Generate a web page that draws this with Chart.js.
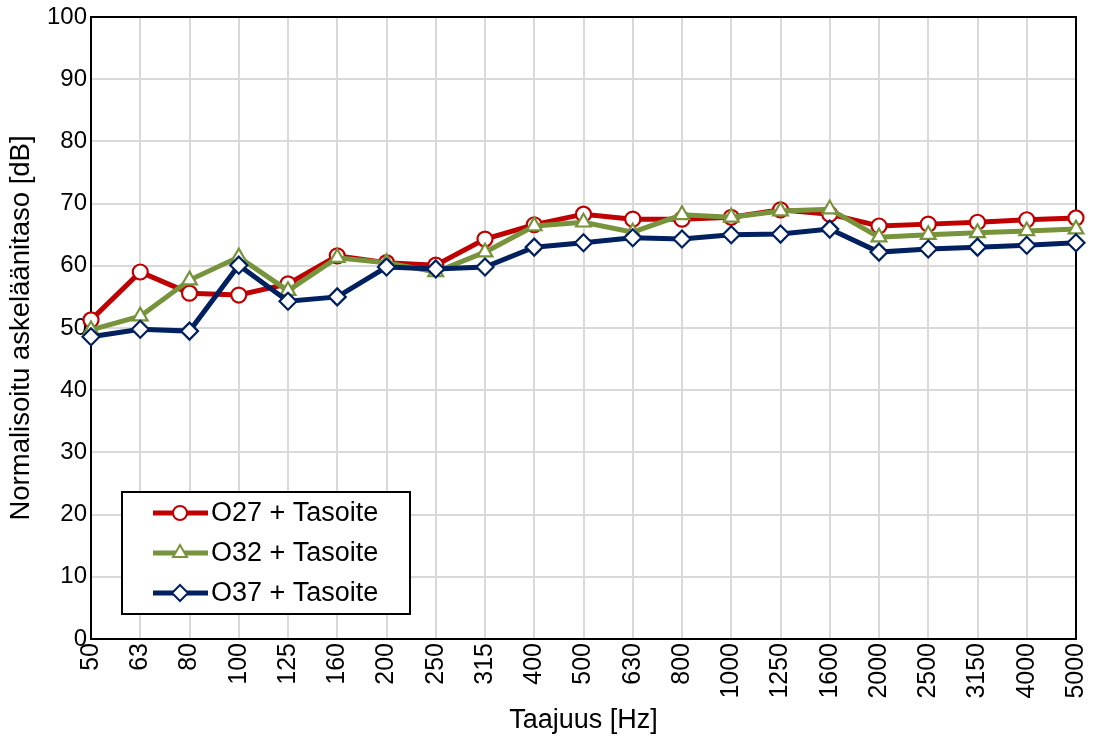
<!DOCTYPE html>
<html>
<head>
<meta charset="utf-8">
<script src="https://cdn.jsdelivr.net/npm/chart.js@4/dist/chart.umd.min.js"></script>
<style>
  html, body { margin: 0; padding: 0; background: #fff; }
  #wrap { width: 1095px; height: 737px; }
</style>
</head>
<body>
<div id="wrap"><canvas id="chart" width="1095" height="737"></canvas></div>
<script>
const frequencies = ['50', '63', '80', '100', '125', '160', '200', '250', '315', '400', '500',
  '630', '800', '1000', '1250', '1600', '2000', '2500', '3150', '4000', '5000'];

const o27 = [51.3, 59.0, 55.6, 55.3, 57.1, 61.6, 60.5, 60.1, 64.3, 66.6, 68.3,
  67.5, 67.5, 67.8, 69.0, 68.3, 66.4, 66.7, 67.0, 67.4, 67.7];
const o32 = [49.7, 51.9, 57.7, 61.4, 56.0, 61.3, 60.5, 59.0, 62.2, 66.4, 67.0,
  65.4, 68.2, 67.8, 68.8, 69.1, 64.6, 65.0, 65.3, 65.6, 65.9];
const o37 = [48.6, 49.8, 49.5, 60.1, 54.3, 55.0, 59.8, 59.5, 59.8, 63.0, 63.7,
  64.5, 64.3, 65.0, 65.1, 65.9, 62.2, 62.7, 63.0, 63.3, 63.7];

const seriesNames = ['O27 + Tasoite', 'O32 + Tasoite', 'O37 + Tasoite'];
const yTicks = [0, 10, 20, 30, 40, 50, 60, 70, 80, 90, 100];

const FONT = 'Arial, "Liberation Sans", sans-serif';

function series(label, data, color, style, order) {
  return {
    label: label,
    data: data,
    borderColor: color,
    backgroundColor: '#FFFFFF',
    borderWidth: 5,
    pointStyle: style,
    pointRadius: style === 'circle' ? 7.5 : 8.5,
    pointBorderWidth: 2.2,
    pointBorderColor: color,
    pointBackgroundColor: '#FFFFFF',
    tension: 0,
    order: order
  };
}

// frame round the plot area
const frame = {
  id: 'frame',
  beforeDatasetsDraw(chart) {
    const { ctx, chartArea: a } = chart;
    ctx.save();
    ctx.strokeStyle = '#000';
    ctx.lineWidth = 2;
    ctx.strokeRect(a.left, a.top, a.right - a.left, a.bottom - a.top);
    ctx.restore();
  }
};

// legend box inside the plot, lower left
const innerLegend = {
  id: 'innerLegend',
  afterDraw(chart) {
    const ctx = chart.ctx;
    const box = { x: 122, y: 492, w: 288, h: 122 };
    ctx.save();
    ctx.fillStyle = '#fff';
    ctx.fillRect(box.x, box.y, box.w, box.h);
    ctx.strokeStyle = '#000';
    ctx.lineWidth = 2;
    ctx.strokeRect(box.x, box.y, box.w, box.h);
    chart.data.datasets.forEach((ds, i) => {
      const y = 513 + i * 40;
      ctx.strokeStyle = ds.borderColor;
      ctx.lineWidth = 5;
      ctx.beginPath();
      ctx.moveTo(153, y);
      ctx.lineTo(208, y);
      ctx.stroke();
      ctx.fillStyle = '#fff';
      ctx.lineWidth = 2;
      Chart.helpers.drawPoint(ctx, {
        pointStyle: ds.pointStyle,
        radius: ds.pointRadius - 0.5,
        borderWidth: 2
      }, 180, y);
      ctx.fillStyle = '#000';
      ctx.font = '27px ' + FONT;
      ctx.textBaseline = 'middle';
      ctx.textAlign = 'left';
      ctx.fillText(ds.label, 211, y + 1);
    });
    ctx.restore();
  }
};

new Chart(document.getElementById('chart'), {
  type: 'line',
  data: {
    labels: frequencies,
    datasets: [
      series(seriesNames[0], o27, '#C00000', 'circle', 2),
      series(seriesNames[1], o32, '#77933C', 'triangle', 1),
      series(seriesNames[2], o37, '#002060', 'rectRot', 0)
    ]
  },
  options: {
    responsive: false,
    animation: false,
    layout: { padding: { top: 17, right: 19, left: 0, bottom: 0 } },
    plugins: {
      legend: { display: false },
      tooltip: { enabled: false }
    },
    scales: {
      x: {
        offset: false,
        grid: { color: '#D9D9D9', lineWidth: 2, drawTicks: false },
        border: { display: false },
        ticks: {
          color: '#000',
          font: { family: FONT, size: 25 },
          minRotation: 90,
          maxRotation: 90,
          autoSkip: false,
          padding: 4
        },
        title: {
          display: true,
          text: 'Taajuus [Hz]',
          color: '#000',
          font: { family: FONT, size: 27 },
          padding: 0
        },
        afterFit(scale) {
          scale.height = 98;
          // the rotated end labels may stick out of the plot, as in the original
          scale.paddingLeft = 0;
          scale.paddingRight = 0;
        }
      },
      y: {
        min: 0,
        max: 100,
        afterBuildTicks(scale) { scale.ticks = yTicks.map(v => ({ value: v })); },
        grid: { color: '#D9D9D9', lineWidth: 2, drawTicks: false },
        border: { display: false },
        ticks: {
          color: '#000',
          font: { family: FONT, size: 24 },
          padding: 4
        },
        title: {
          display: true,
          text: 'Normalisoitu askeläänitaso [dB]',
          color: '#000',
          font: { family: FONT, size: 27.5 },
          padding: { top: 5, bottom: 0 }
        },
        afterFit(scale) {
          scale.width = 91;
          scale.paddingTop = 0;
          scale.paddingBottom = 0;
        }
      }
    }
  },
  plugins: [frame, innerLegend]
});
</script>
</body>
</html>
